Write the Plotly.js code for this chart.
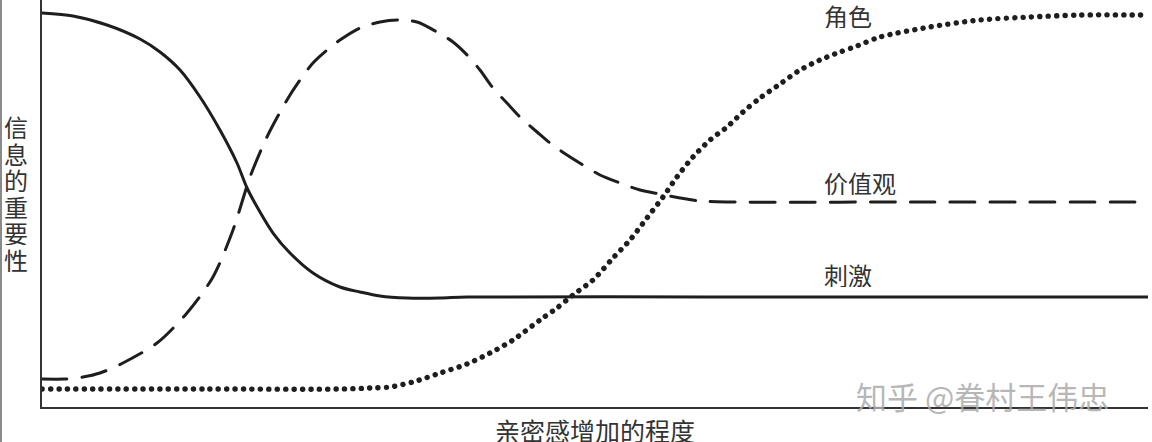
<!DOCTYPE html>
<html>
<head>
<meta charset="utf-8">
<script src="https://cdn.plot.ly/plotly-3.0.1.min.js"></script>
<style>
  html, body { margin: 0; padding: 0; background: #fff; }
  #chart { width: 1152px; height: 442px; }
  #chart path.js-line { stroke-linecap: round !important; }
</style>
</head>
<body>
<div id="chart"></div>
<script>
// 刺激 (solid)
const stimX = [0, 2.80, 5.88, 8.86, 10.67, 12.48, 14.29, 16.09, 17.63, 18.54, 19.71, 20.89, 22.42, 24.50, 26.94, 28.75, 30.56, 33.00, 35.99, 38.43, 60, 100];
const stimY = [96.81, 96.07, 93.86, 90.42, 87.22, 82.80, 76.17, 68.06, 59.95, 53.81, 47.91, 42.75, 37.84, 32.92, 29.48, 28.26, 27.27, 26.78, 26.78, 27.03, 27.03, 27.03];

// 价值观 (dashed)
const valueX = [0, 2.08, 3.71, 5.24, 7.32, 10.40, 13.11, 15.46, 17.27, 18.81, 20.34, 22.15, 23.33, 24.50, 25.77, 26.94, 28.75, 30.56, 32.19, 33.91, 35.71, 37.16, 38.43, 39.60, 40.78, 42.04, 43.22, 44.76, 45.93, 47.47, 48.92, 50.45, 52.26, 54.07, 55.88, 57.69, 59.49, 62.21, 80, 100];
const valueY = [6.88, 6.88, 7.37, 8.35, 10.81, 15.72, 23.10, 31.94, 43.49, 56.51, 66.34, 75.43, 80.34, 84.52, 87.71, 90.17, 93.12, 94.59, 95.09, 94.59, 92.14, 89.68, 86.49, 82.80, 78.38, 74.69, 71.25, 67.57, 64.86, 61.92, 59.46, 57.00, 55.04, 53.32, 52.33, 51.35, 50.61, 50.37, 50.37, 50.37];

// 角色 (dotted)
const roleX = [0, 15, 26.94, 29.66, 31.46, 33.54, 35.99, 38.43, 40.51, 42.59, 45.03, 46.56, 48.01, 49.82, 51.63, 53.16, 54.70, 56.15, 57.41, 58.86, 60.40, 61.93, 63.38, 64.92, 66.73, 68.54, 70.34, 72.15, 73.69, 75.77, 80.29, 84.81, 89.33, 93.85, 99.91];
const roleY = [4.42, 4.42, 4.42, 4.67, 4.91, 6.14, 8.35, 10.57, 13.27, 16.46, 21.38, 24.32, 27.52, 31.20, 36.61, 41.03, 46.44, 51.60, 56.51, 61.43, 65.60, 68.80, 72.48, 75.92, 79.36, 82.80, 85.26, 87.22, 88.70, 90.91, 93.37, 95.09, 95.82, 96.31, 96.31];

// labels
const seriesNames = ["刺激", "价值观", "角色"];
const labelX = [70.5, 70.5, 70.5];
const labelY = [32.7, 55.3, 96.3];
const yTitleChars = ["信", "息", "的", "重", "要", "性"];
const xTitle = "亲密感增加的程度";
const watermark = "知乎 @眷村王伟忠";

const ink = "#1e1e1e";
const font = "'Noto Sans CJK SC', 'Noto Sans', sans-serif";

const traces = [
  { x: stimX, y: stimY, mode: "lines", name: seriesNames[0],
    line: { color: ink, width: 3, shape: "spline", smoothing: 0.8 } },
  { x: valueX, y: valueY, mode: "lines", name: seriesNames[1],
    line: { color: ink, width: 3, shape: "spline", smoothing: 0.8, dash: "25px,15px" } },
  { x: roleX, y: roleY, mode: "lines", name: seriesNames[2],
    line: { color: ink, width: 5.4, shape: "spline", smoothing: 0.8, dash: "0.1px,8.3px" } }
];

const plotH = 407, plotW = 1106, marginL = 42;
const annotations = [];
seriesNames.forEach((n, i) => {
  annotations.push({ x: labelX[i], y: labelY[i], xref: "x", yref: "y", text: n,
    showarrow: false, xanchor: "left", yanchor: "middle", height: 26,
    font: { family: font, size: 24, color: "#333" } });
});
yTitleChars.forEach((c, i) => {
  const py = 126.3 + i * 26.5;
  annotations.push({ x: (16 - marginL) / plotW, y: (plotH - py) / plotH, xref: "paper", yref: "paper",
    text: c, showarrow: false, xanchor: "center", yanchor: "middle", height: 26,
    font: { family: font, size: 24, color: "#333" } });
});
annotations.push({ x: (595 - marginL) / plotW, y: (plotH - 430) / plotH, xref: "paper", yref: "paper",
  text: xTitle, showarrow: false, xanchor: "center", yanchor: "middle", height: 24,
  font: { family: font, size: 25, color: "#333" } });
annotations.push({ x: (982 - marginL) / plotW, y: (plotH - 395) / plotH, xref: "paper", yref: "paper",
  text: watermark, showarrow: false, xanchor: "center", yanchor: "middle",
  font: { family: font, size: 31, color: "rgba(170,170,170,0.85)" } });

const layout = {
  width: 1152, height: 442,
  margin: { l: 42, r: 4, t: 0, b: 35, pad: 0 },
  paper_bgcolor: "#fff", plot_bgcolor: "#fff",
  showlegend: false,
  xaxis: { range: [0, 100], showline: true, linecolor: "#333", linewidth: 2,
    showgrid: false, zeroline: false, showticklabels: false, ticks: "" },
  yaxis: { range: [0, 100], showline: true, linecolor: "#333", linewidth: 2,
    showgrid: false, zeroline: false, showticklabels: false, ticks: "" },
  annotations: annotations,
  shapes: [{ type: "line", xref: "paper", yref: "paper",
    x0: (1 - marginL) / plotW, x1: (1 - marginL) / plotW,
    y0: -35 / plotH, y1: 1, line: { color: "#8a8a8a", width: 2 } }]
};

Plotly.newPlot("chart", traces, layout, { staticPlot: true, displayModeBar: false });
</script>
</body>
</html>
